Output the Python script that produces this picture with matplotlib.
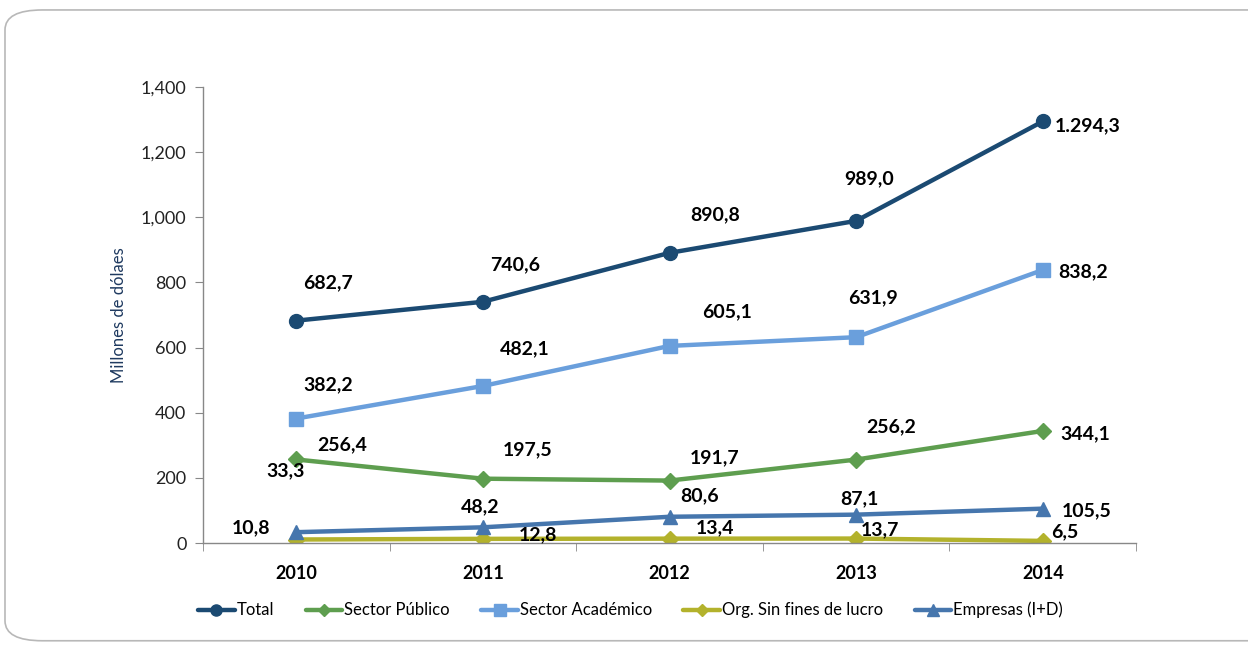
import matplotlib.pyplot as plt
from matplotlib.patches import FancyBboxPatch

years = ["2010", "2011", "2012", "2013", "2014"]

total = [682.7, 740.6, 890.8, 989.0, 1294.3]
publico = [256.4, 197.5, 191.7, 256.2, 344.1]
academico = [382.2, 482.1, 605.1, 631.9, 838.2]
sin_fines = [10.8, 12.8, 13.4, 13.7, 6.5]
empresas = [33.3, 48.2, 80.6, 87.1, 105.5]

total_lbl = ["682,7", "740,6", "890,8", "989,0", "1.294,3"]
publico_lbl = ["256,4", "197,5", "191,7", "256,2", "344,1"]
academico_lbl = ["382,2", "482,1", "605,1", "631,9", "838,2"]
sin_fines_lbl = ["10,8", "12,8", "13,4", "13,7", "6,5"]
empresas_lbl = ["33,3", "48,2", "80,6", "87,1", "105,5"]

plt.rcParams["font.family"] = ["Lato", "DejaVu Sans"]

fig = plt.figure(figsize=(12.48, 6.64), dpi=100)
# marco de la diapositiva
fig.patches.append(FancyBboxPatch((0.004, 0.035), 1.1, 0.95, boxstyle="round,pad=0,rounding_size=0.03",
                                  transform=fig.transFigure, facecolor="white",
                                  edgecolor="#b8b8b8", linewidth=1.2, zorder=-1))
ax = fig.add_axes([0.1627, 0.1822, 0.7476, 0.6868])

x = list(range(len(years)))
series = [
    (total, total_lbl, "Total", "#1b4a72", "o", 10, [(32, 38), (32, 37), (46, 38), (13, 42), (45, -4)]),
    (publico, publico_lbl, "Sector Público", "#5e9e4f", "D", 8, [(46, 15), (45, 29), (45, 23), (35, 33), (43, -3)]),
    (academico, academico_lbl, "Sector Académico", "#6a9fdc", "s", 10, [(32, 34), (42, 37), (58, 34), (17, 39), (40, -2)]),
    (sin_fines, sin_fines_lbl, "Org. Sin fines de lucro", "#b3b22c", "D", 8, [(-45, 12), (55, 4), (45, 11), (24, 9), (22, 9)]),
    (empresas, empresas_lbl, "Empresas (I+D)", "#4676ad", "^", 10, [(-11, 61), (-3, 21), (30, 21), (3, 16), (44, -2)]),
]

for vals, lbls, name, color, mk, ms, offs in series:
    ax.plot(x, vals, color=color, marker=mk, markersize=ms, linewidth=3.2, label=name,
            markeredgecolor=color, solid_capstyle="round")
    for xi, v, t, (dx, dy) in zip(x, vals, lbls, offs):
        ax.annotate(t, (xi, v), xytext=(dx, dy), textcoords="offset pixels",
                    ha="center", va="center", fontsize=14, fontweight="bold", color="black")

ax.set_xlim(-0.5, len(years) - 0.5)
ax.set_ylim(0, 1400)
ax.set_yticks(range(0, 1401, 200))
ax.set_yticklabels([f"{v:,}" for v in range(0, 1401, 200)], fontsize=13, color="#222222")
ax.set_xticks(x)
ax.set_xticklabels(years, fontsize=13, fontweight="bold")
ax.set_xticks([i - 0.5 for i in range(len(years) + 1)], minor=True)
ax.tick_params(axis="x", which="major", length=0, pad=16)
ax.tick_params(axis="x", which="minor", length=6, color="#888888")
ax.tick_params(axis="y", length=6, color="#888888", pad=6)
ax.set_ylabel("Millones de dólaes", fontsize=12, color="#1f3a60", labelpad=10)

for s in ["top", "right"]:
    ax.spines[s].set_visible(False)
for s in ["left", "bottom"]:
    ax.spines[s].set_color("#888888")
    ax.spines[s].set_linewidth(1)

ax.legend(loc="center", bbox_to_anchor=(0.458, -0.147), ncol=5, frameon=False, fontsize=12,
          handlelength=2.2, handletextpad=0.1, columnspacing=1.9, markerscale=0.8)

fig.savefig("out.png", dpi=100)
